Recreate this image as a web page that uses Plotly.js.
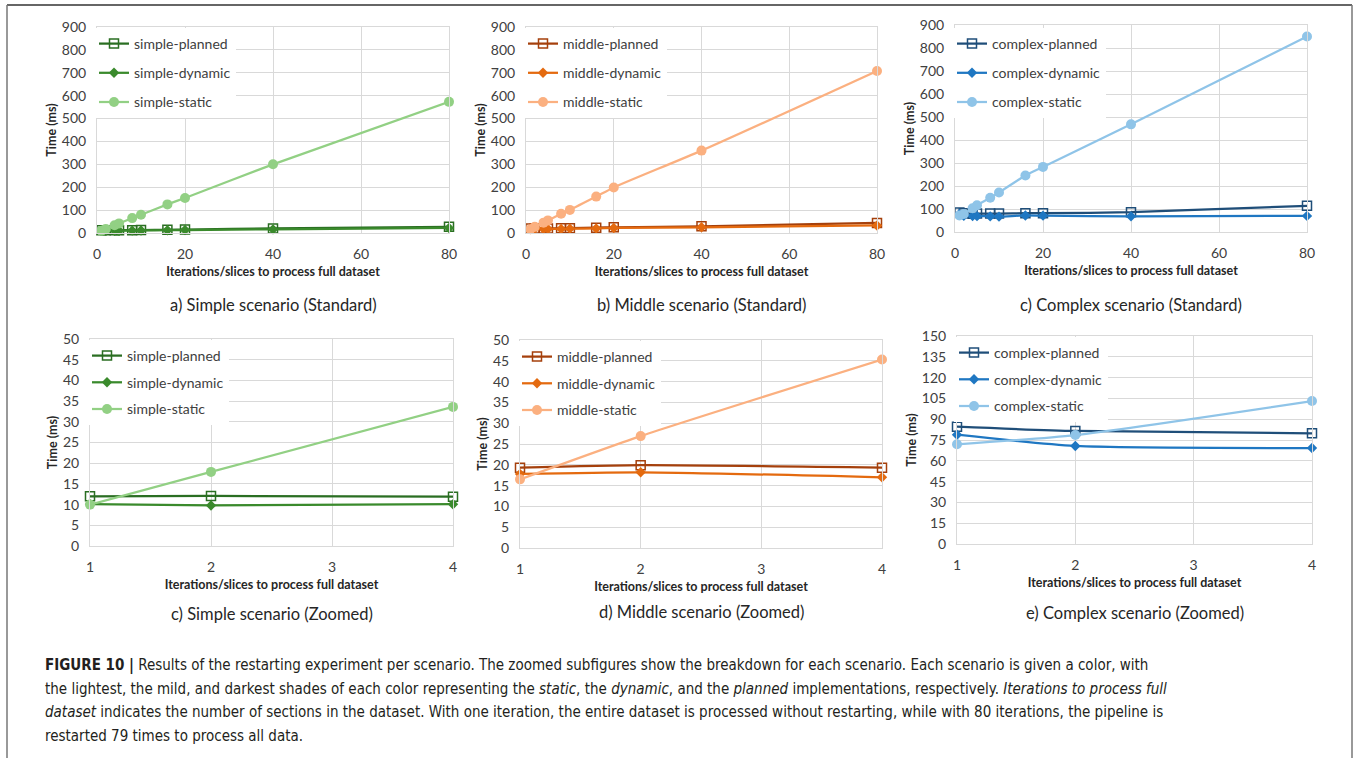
<!DOCTYPE html>
<html>
<head>
<meta charset="utf-8">
<script src="https://cdn.plot.ly/plotly-3.0.1.min.js"></script>
<style>
html,body{margin:0;padding:0;background:#fff;}
#chart{width:1356px;height:758px;}
</style>
</head>
<body>
<div id="chart"></div>
<script>
// ---- data ----
const xStandard = [1, 2, 4, 5, 8, 10, 16, 20, 40, 80];
const xZoomed = [1, 2, 4];

const simplePlanned = [12.0, 12.1, 11.9, 12, 12.5, 13, 14, 15, 20, 27];
const simpleDynamic = [10.1, 9.8, 10.1, 10, 10.5, 11, 12, 13, 16, 22];
const simpleStatic  = [10.0, 17.9, 33.6, 42, 65, 80, 125, 153, 300, 573];

const middlePlanned = [19.3, 19.9, 19.3, 20, 21, 21, 23, 25, 29, 44];
const middleDynamic = [17.8, 18.2, 17.0, 18, 18, 19, 20, 22, 25, 33];
const middleStatic  = [16.5, 26.9, 45.3, 55, 84, 101, 159, 199, 360, 708];

const complexPlanned = [84.6, 81.5, 79.8, 80, 80, 80, 82, 82, 86, 114];
const complexDynamic = [78.8, 70.7, 69.2, 69, 68, 67, 72, 71, 68, 70];
const complexStatic  = [71.9, 78.6, 103.1, 116, 149, 172, 246, 283, 468, 850];

const seriesNames = {
  simple: ["simple-planned", "simple-dynamic", "simple-static"],
  middle: ["middle-planned", "middle-dynamic", "middle-static"],
  complex: ["complex-planned", "complex-dynamic", "complex-static"]
};
const captions = [
  "a) Simple scenario (Standard)",
  "b) Middle scenario (Standard)",
  "c) Complex scenario (Standard)",
  "c) Simple scenario (Zoomed)",
  "d) Middle scenario (Zoomed)",
  "e) Complex scenario (Zoomed)"
];
const xTitle = "Iterations/slices to process full dataset";
const yTitle = "Time (ms)";
const captionLines = [
  "<b>FIGURE 10 |</b> Results of the restarting experiment per scenario. The zoomed subfigures show the breakdown for each scenario. Each scenario is given a color, with",
  "the lightest, the mild, and darkest shades of each color representing the <i>static</i>, the <i>dynamic</i>, and the <i>planned</i> implementations, respectively. <i>Iterations to process full</i>",
  "<i>dataset</i> indicates the number of sections in the dataset. With one iteration, the entire dataset is processed without restarting, while with 80 iterations, the pipeline is",
  "restarted 79 times to process all data."
];

// ---- styling ----
const W = 1356, H = 758;
const colors = {
  simple: ["#2a6e22", "#3a8a2c", "#92d084"],
  middle: ["#a5400c", "#e46a0f", "#fbb080"],
  complex: ["#1f4e79", "#1f77c2", "#8fc4e8"]
};
const symbols = ["square-open", "diamond", "circle"];
const msizes = [9, 8, 10];
const FONT = "Lato, 'Open Sans', sans-serif";

// pixel boxes [left, right, top, bottom]
const boxes = [
  [97, 449, 27, 233],
  [526, 877, 27, 233],
  [955, 1307, 25, 232],
  [90, 453, 339, 546],
  [520, 882, 340, 548],
  [957, 1312, 336, 544]
];
const yRanges = [[0, 900], [0, 900], [0, 900], [0, 50], [0, 50], [0, 150]];
const yDticks = [100, 100, 100, 5, 5, 15];
const legendTops = [28, 28, 28, 340, 341, 337];
const legendGaps = [8, 8, 8, 5.5, 5.5, 5.5];
const captionY = [305, 305, 305, 614, 612, 613];

const scen = ["simple", "middle", "complex", "simple", "middle", "complex"];
const dataMap = {
  simple: [simplePlanned, simpleDynamic, simpleStatic],
  middle: [middlePlanned, middleDynamic, middleStatic],
  complex: [complexPlanned, complexDynamic, complexStatic]
};

const traces = [];
const layout = {
  width: W, height: H,
  margin: {l: 0, r: 0, t: 0, b: 0},
  paper_bgcolor: "#ffffff",
  plot_bgcolor: "#ffffff",
  font: {family: FONT, color: "#404040"},
  showlegend: true,
  annotations: [],
  shapes: []
};

for (let i = 0; i < 6; i++) {
  const n = i + 1;
  const xa = "x" + (n === 1 ? "" : n), ya = "y" + (n === 1 ? "" : n);
  const xk = "xaxis" + (n === 1 ? "" : n), yk = "yaxis" + (n === 1 ? "" : n);
  const lg = "legend" + (n === 1 ? "" : n);
  const zoomed = i >= 3;
  const s = scen[i];
  const b = boxes[i];
  for (let k = 0; k < 3; k++) {
    const full = dataMap[s][k];
    traces.push({
      type: "scatter", mode: "lines+markers",
      x: zoomed ? xZoomed : xStandard,
      y: zoomed ? full.slice(0, 3) : full,
      name: seriesNames[s][k],
      xaxis: xa, yaxis: ya,
      legend: lg,
      legendgroup: lg + "_" + k,
      line: {color: colors[s][k], width: 2.25, shape: "spline", smoothing: 0.6},
      marker: {symbol: symbols[k], size: msizes[k], color: colors[s][k],
               line: {color: colors[s][k], width: k === 0 ? 1.5 : 0}},
      cliponaxis: false,
      hoverinfo: "x+y+name"
    });
  }
  layout[xk] = {
    domain: [b[0] / W, b[1] / W],
    anchor: ya,
    range: zoomed ? [1, 4] : [0, 80],
    dtick: zoomed ? 1 : 20,
    tick0: 0,
    showgrid: true, gridcolor: "#d9d9d9", gridwidth: 1,
    zeroline: false,
    showline: true, linecolor: "#d9d9d9", linewidth: 1, mirror: true,
    ticks: "",
    ticklabelstandoff: 8,
    tickfont: {size: 14, color: "#404040", family: FONT},
    title: {text: "<b>" + xTitle + "</b>", font: {size: 12.5, color: "#262626", family: FONT}, standoff: 6},
    fixedrange: true
  };
  layout[yk] = {
    domain: [(H - b[3]) / H, (H - b[2]) / H],
    anchor: xa,
    range: yRanges[i],
    dtick: yDticks[i],
    showgrid: true, gridcolor: "#d9d9d9", gridwidth: 1,
    zeroline: false,
    showline: true, linecolor: "#d9d9d9", linewidth: 1, mirror: true,
    ticks: "",
    ticklabelstandoff: 7,
    tickfont: {size: 14, color: "#404040", family: FONT},
    title: {text: "<b>" + yTitle + "</b>", font: {size: 12.5, color: "#262626", family: FONT}, standoff: 2},
    fixedrange: true
  };
  layout[lg] = {
    x: (b[0] - 3) / W, y: (H - legendTops[i]) / H,
    xanchor: "left", yanchor: "top",
    bgcolor: "#ffffff", borderwidth: 0,
    font: {size: 14, color: "#404040", family: FONT},
    traceorder: "grouped",
    tracegroupgap: legendGaps[i],
    itemwidth: 30
  };
  layout.annotations.push({
    xref: "paper", yref: "paper",
    x: ((b[0] + b[1]) / 2) / W, y: (H - captionY[i]) / H,
    xanchor: "center", yanchor: "middle",
    text: captions[i], showarrow: false,
    font: {size: 16.5, color: "#262626", family: FONT}
  });
}

const capY = [665, 689, 712, 736];
for (let j = 0; j < captionLines.length; j++) {
  layout.annotations.push({
    xref: "paper", yref: "paper",
    x: 43 / W, y: (H - capY[j]) / H,
    xanchor: "left", yanchor: "middle", align: "left",
    text: captionLines[j], showarrow: false,
    font: {size: 15, color: "#231f20", family: "'Liberation Sans Narrow', 'DejaVu Sans Condensed', 'Liberation Sans', sans-serif"}
  });
}

// outer frame
layout.shapes.push(
  {type: "line", xref: "paper", yref: "paper", x0: 7 / W, x1: 1352 / W, y0: (H - 5) / H, y1: (H - 5) / H, line: {color: "#333333", width: 1.5}},
  {type: "line", xref: "paper", yref: "paper", x0: 7 / W, x1: 7 / W, y0: (H - 5) / H, y1: 0, line: {color: "#777777", width: 1.5}},
  {type: "line", xref: "paper", yref: "paper", x0: 1352 / W, x1: 1352 / W, y0: (H - 5) / H, y1: 0, line: {color: "#777777", width: 1.5}}
);

Plotly.newPlot("chart", traces, layout, {displayModeBar: false, responsive: false});
</script>
</body>
</html>
